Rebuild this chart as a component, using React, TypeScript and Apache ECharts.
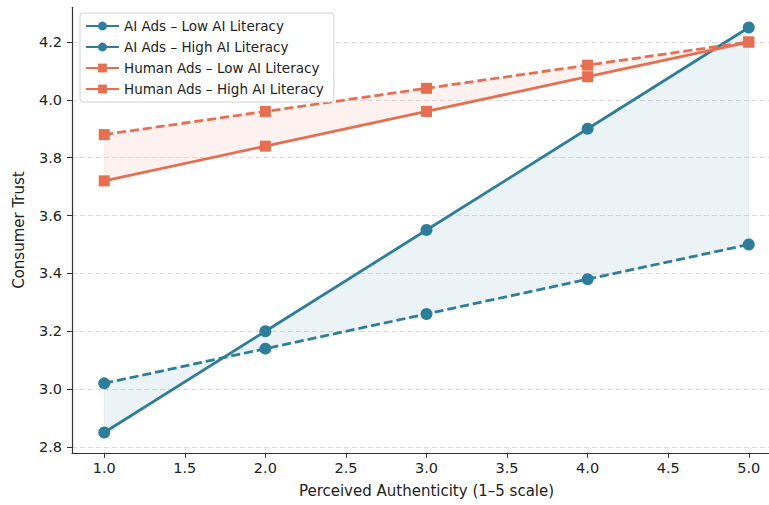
import React, { useEffect, useRef } from "react";
import * as echarts from "echarts";

const authenticity = [1, 2, 3, 4, 5];
const aiLow = [3.02, 3.14, 3.26, 3.38, 3.5];
const aiHigh = [2.85, 3.2, 3.55, 3.9, 4.25];
const humanLow = [3.88, 3.96, 4.04, 4.12, 4.2];
const humanHigh = [3.72, 3.84, 3.96, 4.08, 4.2];
const xTicks = [1.0, 1.5, 2.0, 2.5, 3.0, 3.5, 4.0, 4.5, 5.0];
const yTicks = [2.8, 3.0, 3.2, 3.4, 3.6, 3.8, 4.0, 4.2];

const BLUE = "#2E7D9A";
const ORANGE = "#E76F51";
const FONT = "DejaVu Sans";

function pairs(ys: number[]) {
  return authenticity.map((x, i) => [x, ys[i]]);
}

function bandSeries(a: number[], b: number[], fill: string) {
  return {
    type: "custom",
    silent: true,
    z: 1,
    clip: false,
    data: [[authenticity[0], a[0]]],
    renderItem: (params: any, api: any) => {
      const top = authenticity.map((x, i) => api.coord([x, a[i]]));
      const bot = authenticity.map((x, i) => api.coord([x, b[i]])).reverse();
      return {
        type: "polygon",
        shape: { points: top.concat(bot) },
        style: { fill, stroke: fill, lineWidth: 1 },
      };
    },
  };
}

export default function App() {
  const ref = useRef<HTMLDivElement>(null);
  useEffect(() => {
    const chart = echarts.init(ref.current!, null, { renderer: "svg" });
    const lineSeries = (name: string, ys: number[], color: string, dashed: boolean, symbol: string) => ({
      name,
      type: "line",
      data: pairs(ys),
      symbol,
      symbolSize: symbol === "circle" ? 12 : 11,
      z: 3,
      clip: false,
      lineStyle: { color, width: 2.8, type: dashed ? [9, 4] : "solid" },
      itemStyle: { color },
    });
    chart.setOption({
      animation: false,
      backgroundColor: "#ffffff",
      textStyle: { fontFamily: FONT },
      grid: { left: 72, right: 9, top: 7.3, height: 445.5, containLabel: false },
      legend: {
        left: 80,
        top: 13,
        orient: "vertical",
        backgroundColor: "#ffffff",
        borderColor: "#d0d0d0",
        borderWidth: 1,
        borderRadius: 3,
        padding: [5, 10, 5, 5],
        itemWidth: 33,
        itemHeight: 11,
        itemGap: 5,
        itemTextGap: 5,
        textStyle: { fontFamily: FONT, fontSize: 13.5, color: "#222", lineHeight: 16 },
        data: [
          { name: "AI Ads – Low AI Literacy", lineStyle: { type: "solid" } },
          { name: "AI Ads – High AI Literacy", lineStyle: { type: "solid" } },
          { name: "Human Ads – Low AI Literacy", lineStyle: { type: "solid" } },
          { name: "Human Ads – High AI Literacy", lineStyle: { type: "solid" } },
        ],
      },
      xAxis: {
        type: "value",
        min: 0.8,
        max: 5.2,
        name: "Perceived Authenticity (1–5 scale)",
        nameLocation: "middle",
        nameGap: 31,
        nameTextStyle: { fontFamily: FONT, fontSize: 15, color: "#222" },
        axisLine: { show: true, lineStyle: { color: "#333", width: 1.2 } },
        axisTick: { show: true, length: 5, customValues: xTicks, lineStyle: { color: "#333" } },
        axisLabel: {
          customValues: xTicks,
          margin: 8,
          fontFamily: FONT,
          fontSize: 14.5,
          color: "#222",
          formatter: (v: number) => v.toFixed(1),
        },
        splitLine: { show: false },
      },
      yAxis: {
        type: "value",
        min: 2.78,
        max: 4.32,
        name: "Consumer Trust",
        nameLocation: "middle",
        nameGap: 46,
        nameTextStyle: { fontFamily: FONT, fontSize: 15, color: "#222" },
        axisLine: { show: true, lineStyle: { color: "#333", width: 1.2 } },
        axisTick: { show: true, length: 5, customValues: yTicks, lineStyle: { color: "#333" } },
        axisLabel: {
          customValues: yTicks,
          margin: 10,
          fontFamily: FONT,
          fontSize: 14.5,
          color: "#222",
          formatter: (v: number) => v.toFixed(1),
        },
        splitLine: { show: true, lineStyle: { color: "#dddddd", width: 1, type: [5, 3] } },
      },
      series: [
        bandSeries(aiLow, aiHigh, "rgba(46,125,154,0.09)"),
        bandSeries(humanLow, humanHigh, "rgba(231,111,81,0.09)"),
        lineSeries("AI Ads – Low AI Literacy", aiLow, BLUE, true, "circle"),
        lineSeries("AI Ads – High AI Literacy", aiHigh, BLUE, false, "circle"),
        lineSeries("Human Ads – Low AI Literacy", humanLow, ORANGE, true, "rect"),
        lineSeries("Human Ads – High AI Literacy", humanHigh, ORANGE, false, "rect"),
      ],
    });
    return () => chart.dispose();
  }, []);
  return (
    <div
      style={{
        position: "absolute",
        left: 0,
        top: 0,
        width: 769,
        height: 505,
        overflow: "hidden",
        background: "#fff",
      }}
    >
      <div ref={ref} style={{ width: 790, height: 505 }} />
    </div>
  );
}
